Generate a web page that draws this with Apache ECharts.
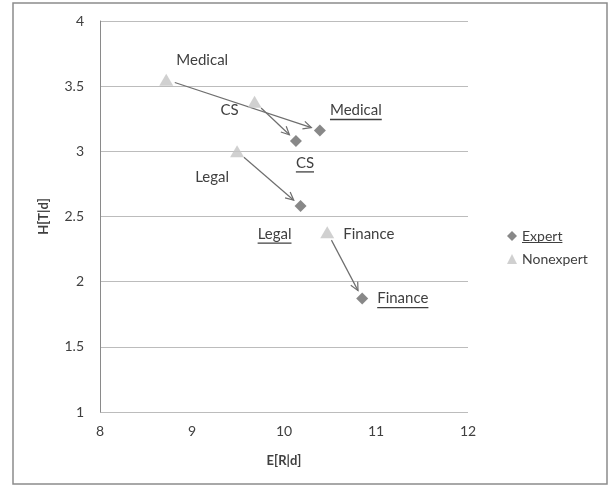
<!DOCTYPE html>
<html><head><meta charset="utf-8">
<script src="https://cdn.jsdelivr.net/npm/echarts@6/dist/echarts.min.js"></script>
<style>html,body{margin:0;padding:0;background:#fff}#c{width:614px;height:487px}</style>
</head><body><div id="c"></div>
<script>
const categories = ['Medical', 'CS', 'Legal', 'Finance'];
const nonexpertX = [8.72, 9.68, 9.49, 10.47];
const nonexpertY = [3.55, 3.38, 3.00, 2.38];
const expertX = [10.39, 10.13, 10.18, 10.85];
const expertY = [3.16, 3.08, 2.58, 1.87];
const xTicks = [8, 9, 10, 11, 12];
const yTicks = [1, 1.5, 2, 2.5, 3, 3.5, 4];

// label placement (pixel offsets from marker, alignment) - styling only
const nonexpertPlace = [
  {dx: 36, dy: -19, align: 'center'},
  {dx: -25, dy: 8, align: 'center'},
  {dx: -25, dy: 26, align: 'center'},
  {dx: 16, dy: 2, align: 'left'}
];
const expertPlace = [
  {dx: 36, dy: -20, align: 'center'},
  {dx: 9, dy: 22, align: 'center'},
  {dx: -26, dy: 28, align: 'center'},
  {dx: 15, dy: 0, align: 'left'}
];

const FONT = 'Lato, "Liberation Sans", sans-serif';
const TEXTCOL = '#404040';
const cv = document.createElement('canvas').getContext('2d');
function tw(s, size) { cv.font = size + 'px Lato'; return cv.measureText(s).width; }

const nonexpertData = nonexpertX.map((x, i) => [x, nonexpertY[i], categories[i]]);
const expertData = expertX.map((x, i) => [x, expertY[i], categories[i]]);
const arrowData = categories.map((c, i) => [nonexpertX[i], nonexpertY[i], expertX[i], expertY[i]]);

function labelRender(place, underline) {
  return function (params, api) {
    const i = params.dataIndex;
    const p = api.coord([api.value(0), api.value(1)]);
    const pl = place[i];
    const name = categories[i];
    const size = 15;
    const x = p[0] + pl.dx, y = p[1] + pl.dy;
    const w = tw(name, size);
    const children = [{
      type: 'text',
      style: {x: x, y: y, text: name, align: pl.align, verticalAlign: 'middle',
              font: size + 'px ' + FONT, fill: TEXTCOL}
    }];
    if (underline) {
      const x0 = pl.align === 'center' ? x - w / 2 : x;
      children.push({type: 'line', shape: {x1: x0, y1: y + 9, x2: x0 + w, y2: y + 9},
        style: {stroke: TEXTCOL, lineWidth: 1.3}});
    }
    return {type: 'group', children: children};
  };
}

function arrowRender(params, api) {
  const a = api.coord([api.value(0), api.value(1)]);
  const b = api.coord([api.value(2), api.value(3)]);
  const dx = b[0] - a[0], dy = b[1] - a[1];
  const L = Math.sqrt(dx * dx + dy * dy);
  const ux = dx / L, uy = dy / L;
  const s = [a[0] + ux * 9, a[1] + uy * 9];
  const e = [b[0] - ux * 9, b[1] - uy * 9];
  const hl = 9, ang = 0.45;
  const c = Math.cos(ang), sn = Math.sin(ang);
  const h1 = [e[0] - hl * (ux * c - uy * sn), e[1] - hl * (uy * c + ux * sn)];
  const h2 = [e[0] - hl * (ux * c + uy * sn), e[1] - hl * (uy * c - ux * sn)];
  const st = {stroke: '#6e6e6e', lineWidth: 1.2};
  return {type: 'group', children: [
    {type: 'line', shape: {x1: s[0], y1: s[1], x2: e[0], y2: e[1]}, style: st},
    {type: 'polyline', shape: {points: [h1, e, h2]}, style: Object.assign({fill: 'none'}, st)}
  ]};
}

const chart = echarts.init(document.getElementById('c'));
const legendTextW = tw('Expert', 14);
chart.setOption({
  backgroundColor: '#fff',
  animation: false,
  textStyle: {fontFamily: FONT},
  grid: {left: 100, right: 146, top: 21, bottom: 75},
  xAxis: {
    type: 'value', min: 8, max: 12, interval: 1,
    name: 'E[R|d]', nameLocation: 'middle', nameGap: 42,
    nameTextStyle: {fontWeight: 'bold', fontSize: 13, color: TEXTCOL, fontFamily: FONT},
    axisLine: {show: false}, axisTick: {show: false}, splitLine: {show: false},
    axisLabel: {margin: 12, fontSize: 14, color: '#404040', fontFamily: FONT,
      formatter: v => xTicks.indexOf(v) >= 0 ? String(v) : ''}
  },
  yAxis: {
    type: 'value', min: 1, max: 4, interval: 0.5,
    name: 'H[T|d]', nameLocation: 'middle', nameGap: 50,
    nameTextStyle: {fontWeight: 'bold', fontSize: 13, color: TEXTCOL, fontFamily: FONT},
    axisLine: {show: true, lineStyle: {color: '#8a8a8a', width: 1}},
    axisTick: {show: false},
    splitLine: {show: true, lineStyle: {color: '#bcbcbc', width: 1}},
    axisLabel: {margin: 16, fontSize: 14, color: '#404040', fontFamily: FONT,
      formatter: v => yTicks.indexOf(v) >= 0 ? String(v) : ''}
  },
  legend: {
    orient: 'vertical', left: 502, top: 224, itemGap: 9, itemWidth: 10, itemHeight: 10,
    textStyle: {fontSize: 14, color: TEXTCOL, fontFamily: FONT},
    data: [{name: 'Expert', icon: 'diamond'}, {name: 'Nonexpert', icon: 'triangle'}]
  },
  graphic: [
    {type: 'rect', shape: {x: 13, y: 3, width: 594, height: 481},
     style: {fill: 'none', stroke: '#8c8c8c', lineWidth: 1.5}, silent: true},
    {type: 'line', shape: {x1: 522, y1: 242.5, x2: 522 + legendTextW, y2: 242.5},
     style: {stroke: TEXTCOL, lineWidth: 1.2}, silent: true}
  ],
  series: [
    {type: 'custom', name: 'arrows', renderItem: arrowRender, data: arrowData, z: 2,
     encode: {x: [0, 2], y: [1, 3]}, silent: true},
    {type: 'scatter', name: 'Nonexpert', data: nonexpertData, symbol: 'triangle',
     symbolSize: [14, 12], itemStyle: {color: '#c4c4c4'}, z: 3},
    {type: 'scatter', name: 'Expert', data: expertData, symbol: 'diamond',
     symbolSize: 12, itemStyle: {color: '#6a6a6a'}, z: 3},
    {type: 'custom', name: 'nlabels', renderItem: labelRender(nonexpertPlace, false),
     data: nonexpertData, z: 4, silent: true},
    {type: 'custom', name: 'elabels', renderItem: labelRender(expertPlace, true),
     data: expertData, z: 4, silent: true}
  ]
});
</script></body></html>
